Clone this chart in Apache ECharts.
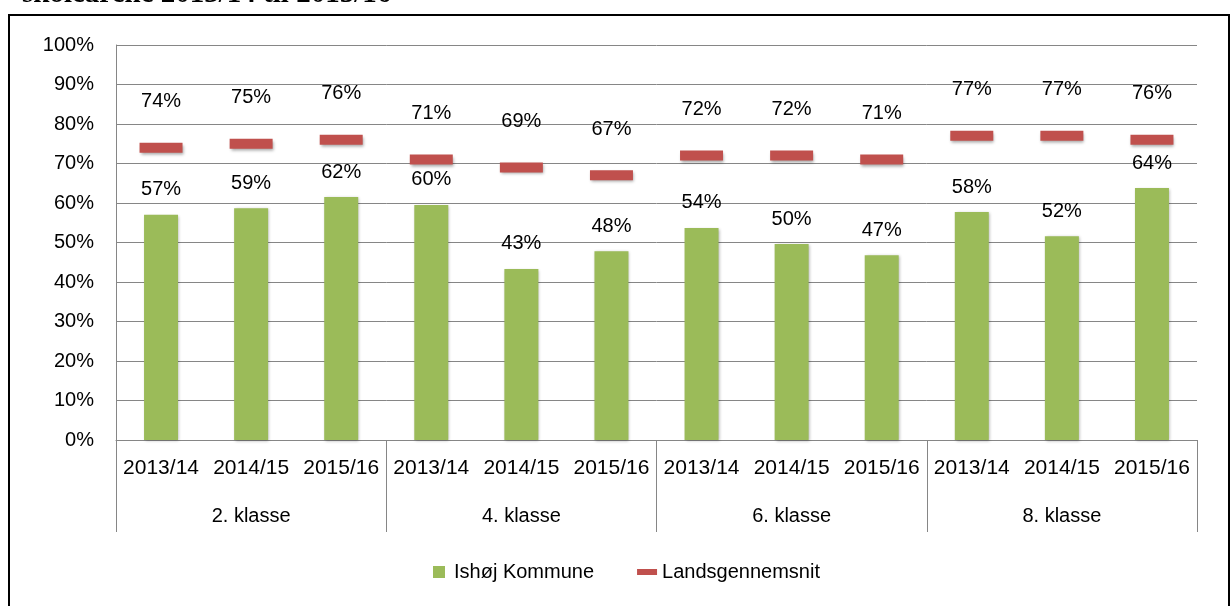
<!DOCTYPE html>
<html>
<head>
<meta charset="utf-8">
<title>Ishøj Kommune</title>
<script src="https://cdn.jsdelivr.net/npm/echarts@6/dist/echarts.min.js"></script>
<style>
html,body{margin:0;padding:0;background:#fff;}
#chart{width:1230px;height:606px;}
</style>
</head>
<body>
<div id="chart"></div>
<script>
//data
var years = ['2013/14','2014/15','2015/16','2013/14','2014/15','2015/16','2013/14','2014/15','2015/16','2013/14','2014/15','2015/16'];
var grades = ['2. klasse','4. klasse','6. klasse','8. klasse'];
var ishoj = [57, 58.7, 61.5, 59.5, 43.3, 47.8, 53.7, 49.6, 46.8, 57.7, 51.6, 63.8];//Ishøj Kommune
var lands = [74, 75, 76, 71, 69, 67, 72, 72, 71, 77, 77, 76];//Landsgennemsnit
var yTicks = [0, 10, 20, 30, 40, 50, 60, 70, 80, 90, 100];

var font = 'Liberation Sans';
var gray = '#868686';

var myChart = echarts.init(document.getElementById('chart'));
var option = {
    animation: false,
    textStyle: {fontFamily: font},
    graphic: [
        {   //title cut at the top of the picture
            type: 'text',
            left: 22,
            top: -20,
            style: {
                text: 'skoleårene 2013/14 til 2015/16',
                font: 'bold 29px "Liberation Serif"',
                fill: '#000'
            }
        },
        {   //frame
            type: 'rect',
            shape: {x: 9, y: 15, width: 1220, height: 620},
            style: {fill: 'none', stroke: '#000', lineWidth: 2}
        }
    ],
    legend: {
        left: 428,
        top: 557,
        itemWidth: 20,
        itemHeight: 12,
        itemGap: 43,
        textStyle: {fontFamily: font, fontSize: 20, color: '#000'},
        data: [
            {name: 'Ishøj Kommune', icon: 'path://M0,0 L12,0 L12,12 L0,12 Z'},
            {name: 'Landsgennemsnit', icon: 'path://M0,0 L20,0 L20,6 L0,6 Z'}
        ]
    },
    grid: {left: 116, right: 33, top: 45, bottom: 166},
    xAxis: [
        {
            type: 'category',
            data: years,
            axisLine: {show: true, lineStyle: {color: gray, width: 1}},
            axisTick: {show: false},
            axisLabel: {interval: 0, margin: 18, color: '#000', fontFamily: font, fontSize: 21}
        },
        {
            type: 'category',
            data: grades,
            position: 'bottom',
            axisLine: {show: false},
            axisTick: {show: true, length: 92, lineStyle: {color: gray, width: 1}},
            axisLabel: {interval: 0, margin: 66, color: '#000', fontFamily: font, fontSize: 20}
        }
    ],
    yAxis: {
        type: 'value',
        min: yTicks[0],
        max: yTicks[yTicks.length - 1],
        interval: 10,
        axisLine: {show: true, lineStyle: {color: gray, width: 1}},
        axisTick: {show: false},
        axisLabel: {margin: 22, color: '#000', fontFamily: font, fontSize: 20, formatter: '{value}%'},
        splitLine: {show: true, lineStyle: {color: gray, width: 1}}
    },
    series: [
        {
            name: 'Ishøj Kommune',
            type: 'bar',
            xAxisIndex: 0,
            barWidth: 34,
            data: ishoj,
            itemStyle: {
                color: '#9BBB59',
                shadowBlur: 3,
                shadowColor: 'rgba(0,0,0,0.3)',
                shadowOffsetX: 1,
                shadowOffsetY: 1
            },
            label: {
                show: true,
                position: 'top',
                distance: 15,
                color: '#000',
                fontFamily: font,
                fontSize: 20,
                formatter: function (p) { return Math.round(p.value) + '%'; }
            }
        },
        {
            name: 'Landsgennemsnit',
            type: 'scatter',
            xAxisIndex: 0,
            symbol: 'rect',
            symbolSize: [43, 10],
            data: lands,
            itemStyle: {
                color: '#C0504D',
                opacity: 1,
                shadowBlur: 3,
                shadowColor: 'rgba(0,0,0,0.35)',
                shadowOffsetX: 1,
                shadowOffsetY: 2
            },
            label: {
                show: true,
                position: 'top',
                distance: 31,
                color: '#000',
                opacity: 1,
                fontFamily: font,
                fontSize: 20,
                formatter: function (p) { return Math.round(p.value) + '%'; }
            }
        }
    ]
};
myChart.setOption(option);
</script>
</body>
</html>
